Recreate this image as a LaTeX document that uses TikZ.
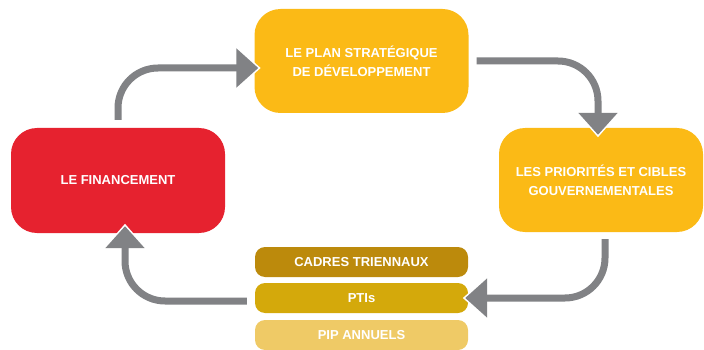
\documentclass[tikz,border=0pt]{standalone}
\usepackage{fontspec}
\setmainfont{Liberation Sans}
\usepackage{tikz}
\usetikzlibrary{arrows.meta}

\definecolor{stageyellow}{HTML}{FBBA16}
\definecolor{stagered}{HTML}{E6222F}
\definecolor{cadresbrown}{HTML}{BC8A0C}
\definecolor{ptisgold}{HTML}{D4A90B}
\definecolor{pipsand}{HTML}{EFCA66}
\definecolor{flowgray}{HTML}{818285}

\tikzset{
    stage/.style={fill=#1, rounded corners=26pt, text=white, align=center, inner sep=0pt, font=\bfseries\fontsize{13}{19}\selectfont},
    bar/.style={fill=#1, rounded corners=10pt, text=white, inner sep=0pt, minimum width=213pt, minimum height=30pt, font=\bfseries\fontsize{13}{16}\selectfont},
    flow/.style={draw=flowgray, line width=7pt, rounded corners=40pt, -{Triangle[length=22pt,width=38pt]},
        preaction={draw=white, line width=10pt, shorten >=-2.5pt, -{Triangle[length=26pt,width=44pt]}}}
}

\begin{document}
\begin{tikzpicture}[x=1pt, y=-1pt]
        \useasboundingbox (0,0) rectangle (704,350);
        \node[stage=stageyellow, minimum width=214pt, minimum height=104pt] (plan) at (361.5,61) {LE PLAN STRATÉGIQUE\\DE DÉVELOPPEMENT};
        \node[stage=stagered, minimum width=214pt, minimum height=105pt] (fin) at (118,180.5) {LE FINANCEMENT};
        \node[stage=stageyellow, minimum width=204pt, minimum height=104pt] (pri) at (601,180) {LES PRIORITÉS ET CIBLES\\GOUVERNEMENTALES};
        \node[bar=cadresbrown] (cadres) at (361.5,262) {CADRES TRIENNAUX};
        \node[bar=ptisgold] (pti) at (361.5,298) {PTIs};
        \node[bar=pipsand] (pip) at (361.5,335) {PIP ANNUELS};
        \draw[flow] ([yshift=8pt]fin.north) |- ([xshift=4pt,yshift=-7pt]plan.west);
        \draw[flow] ([xshift=8pt]plan.east) -| ([xshift=-3pt,yshift=-7pt]pri.north);
        \draw[flow] ([xshift=4pt,yshift=-7pt]pri.south) |- ([xshift=-3pt]pti.east);
        \draw[flow] ([xshift=-8pt,yshift=-3pt]pti.west) -| ([xshift=7pt,yshift=7pt]fin.south);
\end{tikzpicture}
\end{document}
